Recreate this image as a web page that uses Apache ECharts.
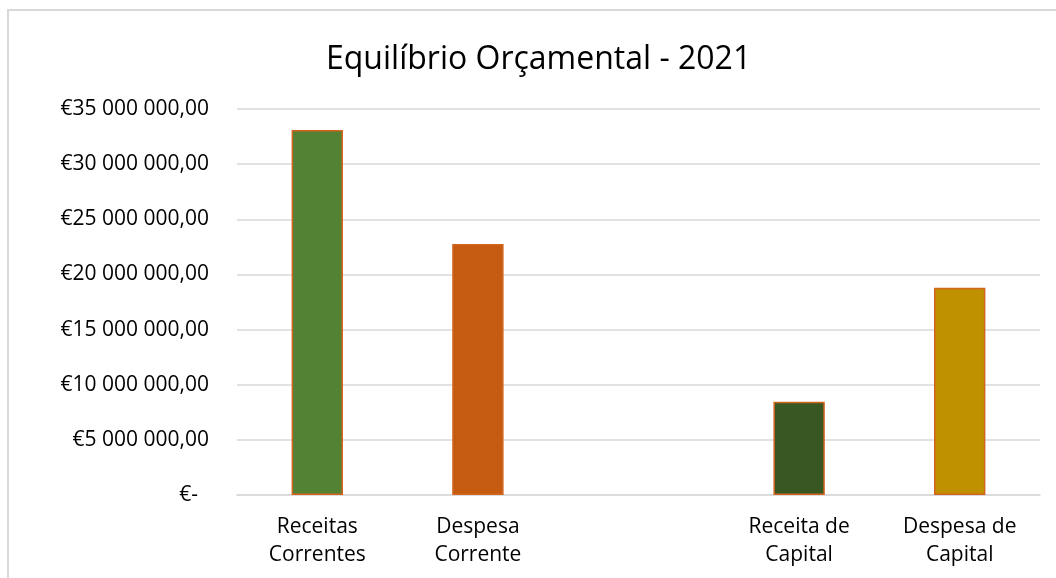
<!DOCTYPE html>
<html>
<head>
<meta charset="utf-8">
<script src="https://cdn.jsdelivr.net/npm/echarts@6/dist/echarts.min.js"></script>
<style>
  html, body { margin: 0; padding: 0; background: #fff; }
  #chart { width: 1056px; height: 578px; }
</style>
</head>
<body>
<div id="chart"></div>
<script>
// categorias (a terceira posição fica vazia no gráfico original)
const categories = ['Receitas\nCorrentes', 'Despesa\nCorrente', '', 'Receita de\nCapital', 'Despesa de\nCapital']
const values = [33100000, 22750000, null, 8450000, 18800000]
const yTicks = [0, 5000000, 10000000, 15000000, 20000000, 25000000, 30000000, 35000000]

const barColors = ['#548235', '#C55A11', '#ffffff', '#385723', '#BF9000']
const font = "'Open Sans', sans-serif"

// formato contabilístico: €35 000 000,00 / €-
const fmtEuro = v => {
  if (v === 0) return '€-  '
  return '€' + String(Math.round(v)).replace(/\B(?=(\d{3})+(?!\d))/g, ' ') + ',00'
}

const myChart = echarts.init(document.getElementById('chart'))

const option = {
  backgroundColor: '#fff',
  animation: false,
  title: {
    text: 'Equilíbrio Orçamental - 2021',
    left: 321,
    top: 39,
    textStyle: { fontFamily: font, fontSize: 32, fontWeight: 'normal', color: '#000' }
  },
  graphic: [
    {
      type: 'rect',
      shape: { x: 8, y: 10, width: 1100, height: 620 },
      style: { fill: 'none', stroke: '#d9d9d9', lineWidth: 2 },
      silent: true
    }
  ],
  grid: { left: 237, right: 16, top: 109, bottom: 83 },
  xAxis: {
    type: 'category',
    data: categories,
    axisTick: { show: false },
    axisLine: { lineStyle: { color: '#d9d9d9', width: 1.5 } },
    axisLabel: {
      interval: 0,
      margin: 18,
      lineHeight: 28,
      fontFamily: font,
      fontSize: 21,
      color: '#000'
    }
  },
  yAxis: {
    type: 'value',
    min: yTicks[0],
    max: yTicks[yTicks.length - 1],
    interval: yTicks[1] - yTicks[0],
    axisLine: { show: false },
    axisTick: { show: false },
    splitLine: { lineStyle: { color: '#d9d9d9', width: 1.5 } },
    axisLabel: {
      margin: 28,
      fontFamily: font,
      fontSize: 21,
      color: '#000',
      formatter: fmtEuro
    }
  },
  series: [
    {
      type: 'bar',
      barWidth: '32%',
      data: values.map((v, i) => ({
        value: v,
        itemStyle: { color: barColors[i] }
      })),
      itemStyle: {
        borderColor: '#D2641E',
        borderWidth: 1.5
      }
    }
  ]
}

myChart.setOption(option)
</script>
</body>
</html>
